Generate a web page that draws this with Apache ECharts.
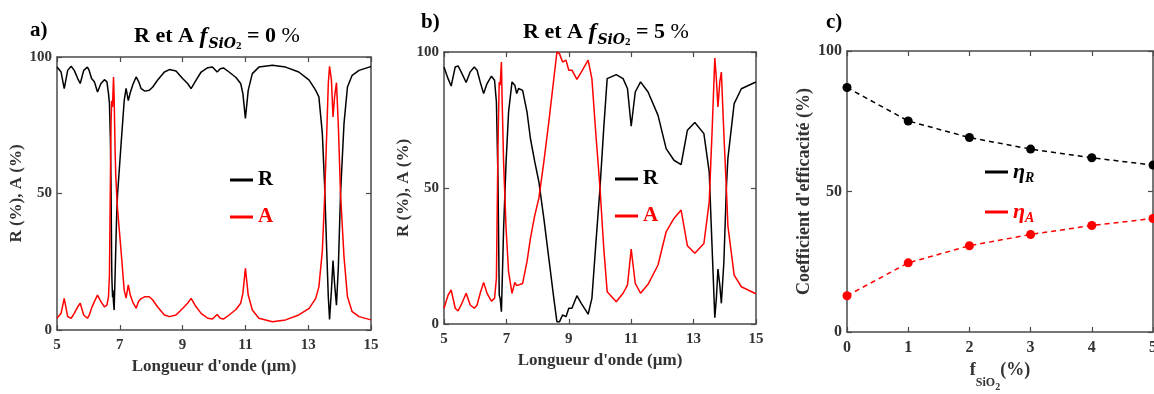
<!DOCTYPE html>
<html><head><meta charset="utf-8">
<script src="https://cdn.jsdelivr.net/npm/echarts@6/dist/echarts.min.js"></script>
<style>html,body{margin:0;padding:0;background:#fff}#c{width:1154px;height:394px}</style>
</head><body><div id="c"></div>
<script>
// ---------- Panel a : f_SiO2 = 0 % ----------
const aWl = [5.0, 5.13, 5.23, 5.34, 5.45, 5.55, 5.66, 5.74, 5.85, 5.97,
  6.03, 6.1, 6.19, 6.29, 6.4, 6.51, 6.59, 6.64, 6.67, 6.7,
  6.72, 6.74, 6.75, 6.77, 6.78, 6.8, 6.82, 6.85, 6.87, 6.9,
  6.93, 7.04, 7.14, 7.2, 7.27, 7.33, 7.42, 7.52, 7.6, 7.68,
  7.8, 7.94, 8.05, 8.2, 8.42, 8.58, 8.79, 9.0, 9.16, 9.27,
  9.43, 9.59, 9.8, 9.95, 10.1, 10.2, 10.3, 10.48, 10.7, 10.85,
  10.92, 11.0, 11.09, 11.22, 11.43, 11.86, 12.28, 12.7, 13.03, 13.24,
  13.34, 13.45, 13.52, 13.59, 13.64, 13.68, 13.74, 13.79, 13.84, 13.9,
  13.96, 14.03, 14.14, 14.25, 14.4, 14.62, 14.94, 15.0];
const aR = [96.3, 94.5, 88.4, 95.1, 96.6, 95.1, 92.1, 90.3, 95.1, 96.3,
  94.9, 92.1, 90.9, 87.2, 90.3, 91.7, 90.9, 86.6, 83, 70,
  53.7, 25, 18, 12, 14.6, 10, 7.3, 20, 29, 42,
  50, 68, 84, 88.5, 84, 86.8, 90, 92.7, 91, 88.4,
  87.5, 87.8, 89, 91.5, 94.5, 95.4, 94.9, 92.1, 90.3, 88.4,
  91.5, 94.5, 96.1, 96.3, 94.5, 95.7, 96, 94.5, 92.5, 90.3,
  86.6, 77.5, 87.8, 93.9, 96.3, 97, 96.3, 94.5, 91.5, 87.8,
  85.4, 72, 53.7, 29, 12.2, 3.9, 14.6, 25.4, 17, 9.1,
  23, 50, 75.6, 89, 93.3, 95.1, 96.3, 96.5];
const aA = [4.3, 6.1, 11.6, 4.9, 4.3, 6.1, 8.5, 9.8, 5.5, 4.3,
  5.5, 8.0, 10.4, 12.8, 10.4, 8.5, 9.1, 12.2, 20, 54,
  75, 84, 83, 81.7, 86, 92.7, 85, 66, 57, 50,
  44, 29, 14.6, 11.7, 16.5, 13, 10, 8, 10.5, 11.5,
  12.2, 12.2, 11, 8.5, 5.5, 4.9, 5.5, 7.9, 9.8, 11.6,
  8.5, 6.1, 4.3, 4.0, 5.7, 4.3, 4.0, 5.5, 7.5, 9.8,
  13.4, 22.6, 12.8, 7.3, 4.3, 3.0, 3.7, 5.5, 7.9, 11.6,
  15.8, 29, 47.6, 72, 90.3, 96.6, 91.5, 78, 85.4, 90.6,
  75, 49.8, 26.8, 12.2, 6.7, 4.9, 3.9, 3.7];

// ---------- Panel b : f_SiO2 = 5 % ----------
const bWl = [5.0, 5.13, 5.23, 5.36, 5.45, 5.55, 5.71, 5.84, 5.97, 6.06,
  6.16, 6.27, 6.38, 6.52, 6.62, 6.68, 6.73, 6.77, 6.8, 6.84,
  6.86, 6.91, 6.99, 7.07, 7.18, 7.27, 7.33, 7.39, 7.52, 7.66,
  7.77, 7.91, 8.04, 8.2, 8.36, 8.52, 8.62, 8.7, 8.8, 8.91,
  9.0, 9.1, 9.26, 9.4, 9.62, 9.74, 9.87, 10.0, 10.12, 10.23,
  10.52, 10.74, 10.88, 11.0, 11.13, 11.3, 11.54, 11.86, 12.12, 12.37,
  12.6, 12.8, 13.04, 13.33, 13.5, 13.59, 13.68, 13.73, 13.78, 13.84,
  13.89, 13.97, 14.05, 14.1, 14.3, 14.53, 14.96, 15.0];
const bR = [94.5, 90.2, 87.5, 94.5, 94.9, 92.7, 88.8, 92.7, 94.5, 93.3,
  89, 84.7, 88.4, 91.1, 89.6, 81.6, 53.5, 10.6, 9.4, 4.5,
  13, 35, 59.6, 78, 89, 87.8, 84.7, 86.6, 85.9, 78,
  68.2, 59.6, 52.3, 38.8, 24.1, 9.4, 0.8, 0.8, 3.3, 2.7,
  5.8, 5.8, 10.4, 7.6, 3.6, 9.4, 30, 50, 72, 90.2,
  91.7, 90.2, 86.6, 72.7, 85.3, 89, 85.3, 76.7, 64.5, 60.2,
  58.6, 71.2, 74.1, 70, 55.9, 29, 2.3, 9.4, 20.2, 14.3,
  7.6, 22.7, 50, 61, 81, 86.5, 88.8, 88.9];
const bA = [5.8, 10.6, 12.5, 5.8, 4.8, 7, 11.3, 7, 5.8, 7,
  11.3, 15.3, 11.3, 8.4, 9.4, 16.8, 65.7, 89, 87.8, 96.3,
  84, 59.6, 35, 19.2, 11.3, 15.3, 14.1, 14.5, 14.9, 22.9,
  31.5, 40, 46.2, 59.6, 74.3, 90.2, 100, 99.4, 96.3, 97,
  93.3, 93.3, 89.9, 92.6, 97, 90.2, 69.4, 50, 28, 11.9,
  8.2, 11.3, 14.3, 27.5, 14.9, 11.3, 14.6, 21.7, 33.9, 38.8,
  41.9, 28.8, 26, 29.6, 44.9, 70, 97.8, 90, 79.8, 89,
  92.6, 70, 49.8, 36, 18, 13.7, 11.3, 11.2];

// ---------- Panel c : efficiency vs f_SiO2 ----------
const fSiO2 = [0, 1, 2, 3, 4, 5];
const etaR = [87.0, 75.1, 69.2, 65.1, 62.0, 59.4];
const etaA = [12.9, 24.6, 30.7, 34.7, 37.9, 40.4];

// ---------- styling ----------
const FONT = 'Liberation Serif';
const AXC = '#4a4a4a';
const TXC = '#333';

function pairs(xs, ys) { return xs.map((x, i) => [x, ys[i]]); }

function xAxes(g, min, max, interval, name, nameGap, fs, nameStyle) {
  const base = {
    gridIndex: g, type: 'value', min: min, max: max, interval: interval,
    splitLine: { show: false },
    axisLine: { show: true, onZero: false, lineStyle: { color: AXC, width: 1.5 } },
    axisTick: { show: true, inside: true, length: 5, lineStyle: { color: AXC, width: 1.2 } }
  };
  return [
    Object.assign({}, base, {
      position: 'bottom',
      axisLabel: { show: true, margin: 8, fontFamily: FONT, fontWeight: 'bold', fontSize: fs, color: TXC, hideOverlap: false },
      name: name, nameLocation: 'middle', nameGap: nameGap,
      nameTextStyle: nameStyle
    }),
    Object.assign({}, base, { position: 'top', axisLabel: { show: false } })
  ];
}
function yAxes(g, name, nameGap, fs, nfs) {
  const base = {
    gridIndex: g, type: 'value', min: 0, max: 100, interval: 50,
    splitLine: { show: false },
    axisLine: { show: true, onZero: false, lineStyle: { color: AXC, width: 1.5 } },
    axisTick: { show: true, inside: true, length: 5, lineStyle: { color: AXC, width: 1.2 } }
  };
  return [
    Object.assign({}, base, {
      position: 'left',
      axisLabel: { show: true, margin: 5, fontFamily: FONT, fontWeight: 'bold', fontSize: fs, color: TXC },
      name: name, nameLocation: 'middle', nameGap: nameGap,
      nameTextStyle: { fontFamily: FONT, fontWeight: 'bold', fontSize: nfs, color: TXC }
    }),
    Object.assign({}, base, { position: 'right', axisLabel: { show: false } })
  ];
}

const abName = { fontFamily: FONT, fontWeight: 'bold', fontSize: 17, color: TXC };
const cName = {
  rich: {
    m: { fontFamily: FONT, fontWeight: 'bold', fontSize: 18, lineHeight: 18, verticalAlign: 'top', color: TXC },
    s: { fontFamily: FONT, fontWeight: 'bold', fontSize: 12, lineHeight: 12, padding: [16, 0, 0, 0], verticalAlign: 'top', color: TXC },
    t: { fontFamily: FONT, fontWeight: 'bold', fontSize: 10, lineHeight: 10, padding: [22, 0, 0, 0], verticalAlign: 'top', color: TXC }
  }
};

function titleRich() {
  return {
    m: { fontFamily: FONT, fontWeight: 'bold', fontSize: 22, lineHeight: 22, verticalAlign: 'top', color: '#000' },
    f: { fontFamily: FONT, fontWeight: 'bold', fontStyle: 'italic', fontSize: 24, lineHeight: 22, verticalAlign: 'top', color: '#000' },
    s: { fontFamily: 'DejaVu Serif', fontWeight: 'bold', fontStyle: 'italic', fontSize: 14, lineHeight: 14, padding: [12, 0, 0, 1], verticalAlign: 'top', color: '#000' },
    t: { fontFamily: FONT, fontWeight: 'bold', fontSize: 11, lineHeight: 11, padding: [16, 0, 0, 0], verticalAlign: 'top', color: '#000' },
    p: { fontFamily: FONT, fontWeight: 'normal', fontSize: 22, lineHeight: 22, verticalAlign: 'top', color: '#000' }
  };
}
const letterStyle = { fontFamily: FONT, fontWeight: 'bold', fontSize: 21, color: '#000' };

const legendText = { fontFamily: FONT, fontWeight: 'bold', fontSize: 21, lineHeight: 22 };

const xa = xAxes(0, 5, 15, 2, "Longueur d'onde (µm)", 24, 15, abName);
const xb = xAxes(1, 5, 15, 2, "Longueur d'onde (µm)", 24, 15, abName);
const xc = xAxes(2, 0, 5, 1, '{m|f}{s|SiO}{t|2}{m|(%)}', 24, 16, cName);
const ya = yAxes(0, 'R (%), A (%)', 31, 15, 17);
const yb = yAxes(1, 'R (%), A (%)', 31, 15, 17);
const yc = yAxes(2, "Coefficient d'efficacité (%)", 34, 16, 18);

function lineSeries(name, color, xi, yi, data) {
  return { name: name, type: 'line', xAxisIndex: xi, yAxisIndex: yi, data: data,
    showSymbol: false, symbol: 'none', lineStyle: { color: color, width: 1.5 }, itemStyle: { color: color },
    silent: true, animation: false };
}
function dashSeries(name, color, data) {
  return { name: name, type: 'line', xAxisIndex: 4, yAxisIndex: 4, data: data,
    symbol: 'circle', symbolSize: 9, showSymbol: true, clip: false,
    lineStyle: { color: color, width: 1.5, type: [5, 4] }, itemStyle: { color: color },
    silent: true, animation: false };
}

const option = {
  backgroundColor: '#fff',
  animation: false,
  title: [
    { text: 'a)', left: 25, top: 15, textStyle: letterStyle },
    { text: 'b)', left: 416, top: 7, textStyle: letterStyle },
    { text: 'c)', left: 821, top: 7, textStyle: letterStyle },
    { text: '{m|R et A }{f|f}{s|SiO}{t|2}{m| = 0 }{p|%}', left: 212, top: 20, textAlign: 'center', textStyle: { rich: titleRich() } },
    { text: '{m|R et A }{f|f}{s|SiO}{t|2}{m| = 5 }{p|%}', left: 601, top: 16, textAlign: 'center', textStyle: { rich: titleRich() } }
  ],
  grid: [
    { left: 57, top: 57, width: 314, height: 273, outerBoundsMode: 'none', containLabel: false },
    { left: 444, top: 52, width: 312, height: 272, outerBoundsMode: 'none', containLabel: false },
    { left: 847, top: 51, width: 306, height: 281, outerBoundsMode: 'none', containLabel: false }
  ],
  xAxis: [xa[0], xa[1], xb[0], xb[1], xc[0], xc[1]],
  yAxis: [ya[0], ya[1], yb[0], yb[1], yc[0], yc[1]],
  legend: [
    { left: 225, top: 164, orient: 'vertical', itemGap: 15, itemWidth: 23, itemHeight: 3, icon: 'rect', selectedMode: false,
      textStyle: legendText,
      data: [{ name: 'R', textStyle: { color: '#000' } }, { name: 'A', textStyle: { color: '#ff0000' } }] },
    { left: 610, top: 163, orient: 'vertical', itemGap: 15, itemWidth: 23, itemHeight: 3, icon: 'rect', selectedMode: false,
      textStyle: legendText,
      data: [{ name: 'R', textStyle: { color: '#000' } }, { name: 'A', textStyle: { color: '#ff0000' } }] },
    { left: 980, top: 156, orient: 'vertical', itemGap: 16, itemWidth: 23, itemHeight: 3, icon: 'rect', selectedMode: false,
      data: ['ηR', 'ηA'],
      formatter: function (n) { return n === 'ηR' ? '{er|η}{ers|R}' : '{ea|η}{eas|A}'; },
      textStyle: { rich: {
        er: { fontFamily: FONT, fontWeight: 'bold', fontStyle: 'italic', fontSize: 22, lineHeight: 22, color: '#000', verticalAlign: 'top' },
        ers: { fontFamily: FONT, fontWeight: 'bold', fontStyle: 'italic', fontSize: 14, lineHeight: 14, padding: [10, 0, 0, 0], color: '#000', verticalAlign: 'top' },
        ea: { fontFamily: FONT, fontWeight: 'bold', fontStyle: 'italic', fontSize: 22, lineHeight: 22, color: '#ff0000', verticalAlign: 'top' },
        eas: { fontFamily: FONT, fontWeight: 'bold', fontStyle: 'italic', fontSize: 14, lineHeight: 14, padding: [10, 0, 0, 0], color: '#ff0000', verticalAlign: 'top' }
      } } }
  ],
  series: [
    lineSeries('R', '#000000', 0, 0, pairs(aWl, aR)),
    lineSeries('A', '#ff0000', 0, 0, pairs(aWl, aA)),
    lineSeries('R', '#000000', 2, 2, pairs(bWl, bR)),
    lineSeries('A', '#ff0000', 2, 2, pairs(bWl, bA)),
    dashSeries('ηR', '#000000', pairs(fSiO2, etaR)),
    dashSeries('ηA', '#ff0000', pairs(fSiO2, etaA))
  ]
};
const chart = echarts.init(document.getElementById('c'), null, { renderer: 'canvas' });
chart.setOption(option);
</script>
</body></html>
